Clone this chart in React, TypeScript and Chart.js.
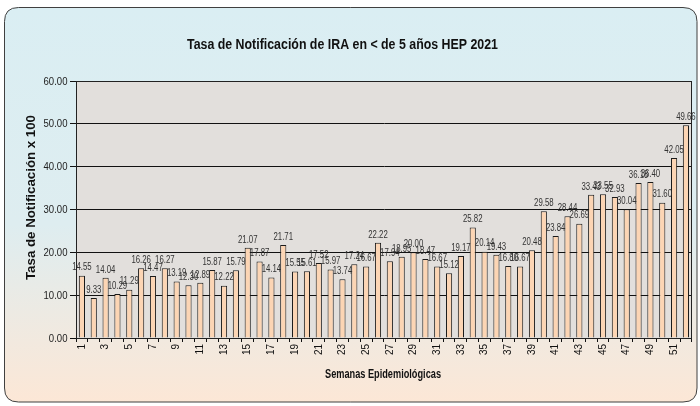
import React, { useEffect, useRef } from "react";
import { Chart, registerables } from "chart.js";

Chart.register(...registerables);

const title = "Tasa de Notificación de IRA en < de 5 años HEP 2021";
const yTitle = "Tasa de Notificación x 100";
const xTitle = "Semanas Epidemiológicas";

const weeks: string[] = Array.from({ length: 52 }, (_, i) => String(i + 1));
const rates: number[] = [
  14.55, 9.33, 14.04, 10.29, 11.29, 16.26, 14.47, 16.27, 13.19, 12.3,
  12.89, 15.87, 12.22, 15.79, 21.07, 17.87, 14.14, 21.71, 15.55, 15.61,
  17.52, 15.97, 13.74, 17.24, 16.67, 22.22, 17.94, 18.95, 20.0, 18.47,
  16.67, 15.12, 19.17, 25.82, 20.14, 19.43, 16.8, 16.67, 20.48, 29.58,
  23.84, 28.44, 26.69, 33.43, 33.55, 32.93, 30.04, 36.18, 36.4, 31.6,
  42.05, 49.66,
];
const yTicks: number[] = [0, 10, 20, 30, 40, 50, 60];

const SANS = '"Liberation Sans", Arial, sans-serif';

// draw text horizontally squeezed (Arial Narrow look)
function drawSqueezed(ctx: any, text: string, x: number, y: number, sx: number, align: string, rot = 0) {
  ctx.save();
  ctx.translate(x, y);
  if (rot) ctx.rotate(rot);
  ctx.scale(sx, 1);
  ctx.textAlign = align;
  ctx.fillText(text, 0, 0);
  ctx.restore();
}

function fitScale(ctx: any, text: string, target: number) {
  return target / ctx.measureText(text).width;
}

const decorPlugin = {
  id: "decor",
  beforeDraw(chart: any) {
    const { ctx, chartArea } = chart;
    ctx.save();
    const x = 4.5, y = 7.5, w = 692.5, h = 394.5, r = 14;
    const g = ctx.createLinearGradient(0, y, 0, y + h);
    g.addColorStop(0, "#DAEEF3");
    g.addColorStop(0.55, "#DEEDF0");
    g.addColorStop(1, "#FCE7D6");
    ctx.beginPath();
    ctx.moveTo(x + r, y);
    ctx.lineTo(x + w - r, y);
    ctx.quadraticCurveTo(x + w, y, x + w, y + r);
    ctx.lineTo(x + w, y + h - r);
    ctx.quadraticCurveTo(x + w, y + h, x + w - r, y + h);
    ctx.lineTo(x + r, y + h);
    ctx.quadraticCurveTo(x, y + h, x, y + h - r);
    ctx.lineTo(x, y + r);
    ctx.quadraticCurveTo(x, y, x + r, y);
    ctx.closePath();
    ctx.fillStyle = g;
    ctx.fill();
    ctx.strokeStyle = "#404040";
    ctx.lineWidth = 1;
    ctx.stroke();
    ctx.fillStyle = "#E2DFDC";
    ctx.fillRect(chartArea.left, chartArea.top, chartArea.right - chartArea.left, chartArea.bottom - chartArea.top);

    ctx.fillStyle = "#111";
    ctx.textBaseline = "middle";
    ctx.font = `bold 14px ${SANS}`;
    drawSqueezed(ctx, title, 342.5, 45, fitScale(ctx, title, 311), "center");
    ctx.font = `bold 12px ${SANS}`;
    drawSqueezed(ctx, xTitle, 383, 375, fitScale(ctx, xTitle, 116), "center");
    ctx.font = `bold 13px ${SANS}`;
    drawSqueezed(ctx, yTitle, 31, 197.5, fitScale(ctx, yTitle, 165), "center", -Math.PI / 2);

    // y tick labels
    const ys = chart.scales.y;
    ctx.font = `11px ${SANS}`;
    ctx.fillStyle = "#222";
    yTicks.forEach((v) => {
      const t = v.toFixed(2);
      drawSqueezed(ctx, t, 67.5, ys.getPixelForValue(v) + 0.5, 0.87, "right");
    });
    ctx.restore();
  },
  afterDatasetsDraw(chart: any) {
    const { ctx, chartArea } = chart;
    ctx.save();
    ctx.strokeStyle = "#222";
    ctx.lineWidth = 1;
    ctx.strokeRect(Math.round(chartArea.left) + 0.5, Math.round(chartArea.top) + 0.5,
      Math.round(chartArea.right - chartArea.left) - 1, Math.round(chartArea.bottom - chartArea.top));
    const meta = chart.getDatasetMeta(0);
    ctx.font = `10px ${SANS}`;
    ctx.fillStyle = "#333";
    ctx.textBaseline = "bottom";
    meta.data.forEach((bar: any, i: number) => {
      drawSqueezed(ctx, rates[i].toFixed(2), bar.x, bar.y - 3, 0.78, "center");
    });
    ctx.restore();
  },
};

export default function App() {
  const ref = useRef<HTMLCanvasElement | null>(null);
  useEffect(() => {
    if (!ref.current) return;
    const chart = new Chart(ref.current, {
      type: "bar",
      data: {
        labels: weeks,
        datasets: [
          {
            data: rates,
            backgroundColor: "#FCD5B4",
            borderColor: "#1a1a1a",
            borderWidth: 1,
            barPercentage: 0.52,
            categoryPercentage: 1,
          },
        ],
      },
      options: {
        responsive: false,
        animation: false,
        devicePixelRatio: 1,
        layout: { padding: { left: 0, right: 7, top: 81, bottom: 0 } },
        plugins: { legend: { display: false }, title: { display: false }, tooltip: { enabled: false } },
        scales: {
          x: {
            afterFit: (s: any) => { s.height = 68; },
            border: { display: true, color: "#111", width: 1 },
            grid: { drawOnChartArea: false, drawTicks: true, tickLength: 4, color: "#111", offset: true },
            ticks: {
              autoSkip: false,
              maxRotation: 90,
              minRotation: 90,
              padding: 2,
              color: "#111",
              font: { family: SANS, size: 10 },
              callback: (_v: any, i: number) => (i % 2 === 0 ? weeks[i] : ""),
            },
          },
          y: {
            min: 0,
            max: 60,
            afterFit: (s: any) => { s.width = 76; },
            afterBuildTicks: (s: any) => { s.ticks = yTicks.map((v) => ({ value: v })); },
            border: { display: true, color: "#111", width: 1 },
            grid: { color: "#111", lineWidth: 1, drawTicks: true, tickLength: 6 },
            ticks: {
              padding: 3,
              color: "rgba(0,0,0,0)",
              font: { family: SANS, size: 11 },
              callback: (v: any) => Number(v).toFixed(2),
            },
          },
        },
      },
      plugins: [decorPlugin],
    });
    return () => chart.destroy();
  }, []);
  return (
    <div style={{ position: "absolute", left: 0, top: 0, width: 700, height: 406 }}>
      <canvas ref={ref} width={700} height={406} style={{ display: "block" }} />
    </div>
  );
}
